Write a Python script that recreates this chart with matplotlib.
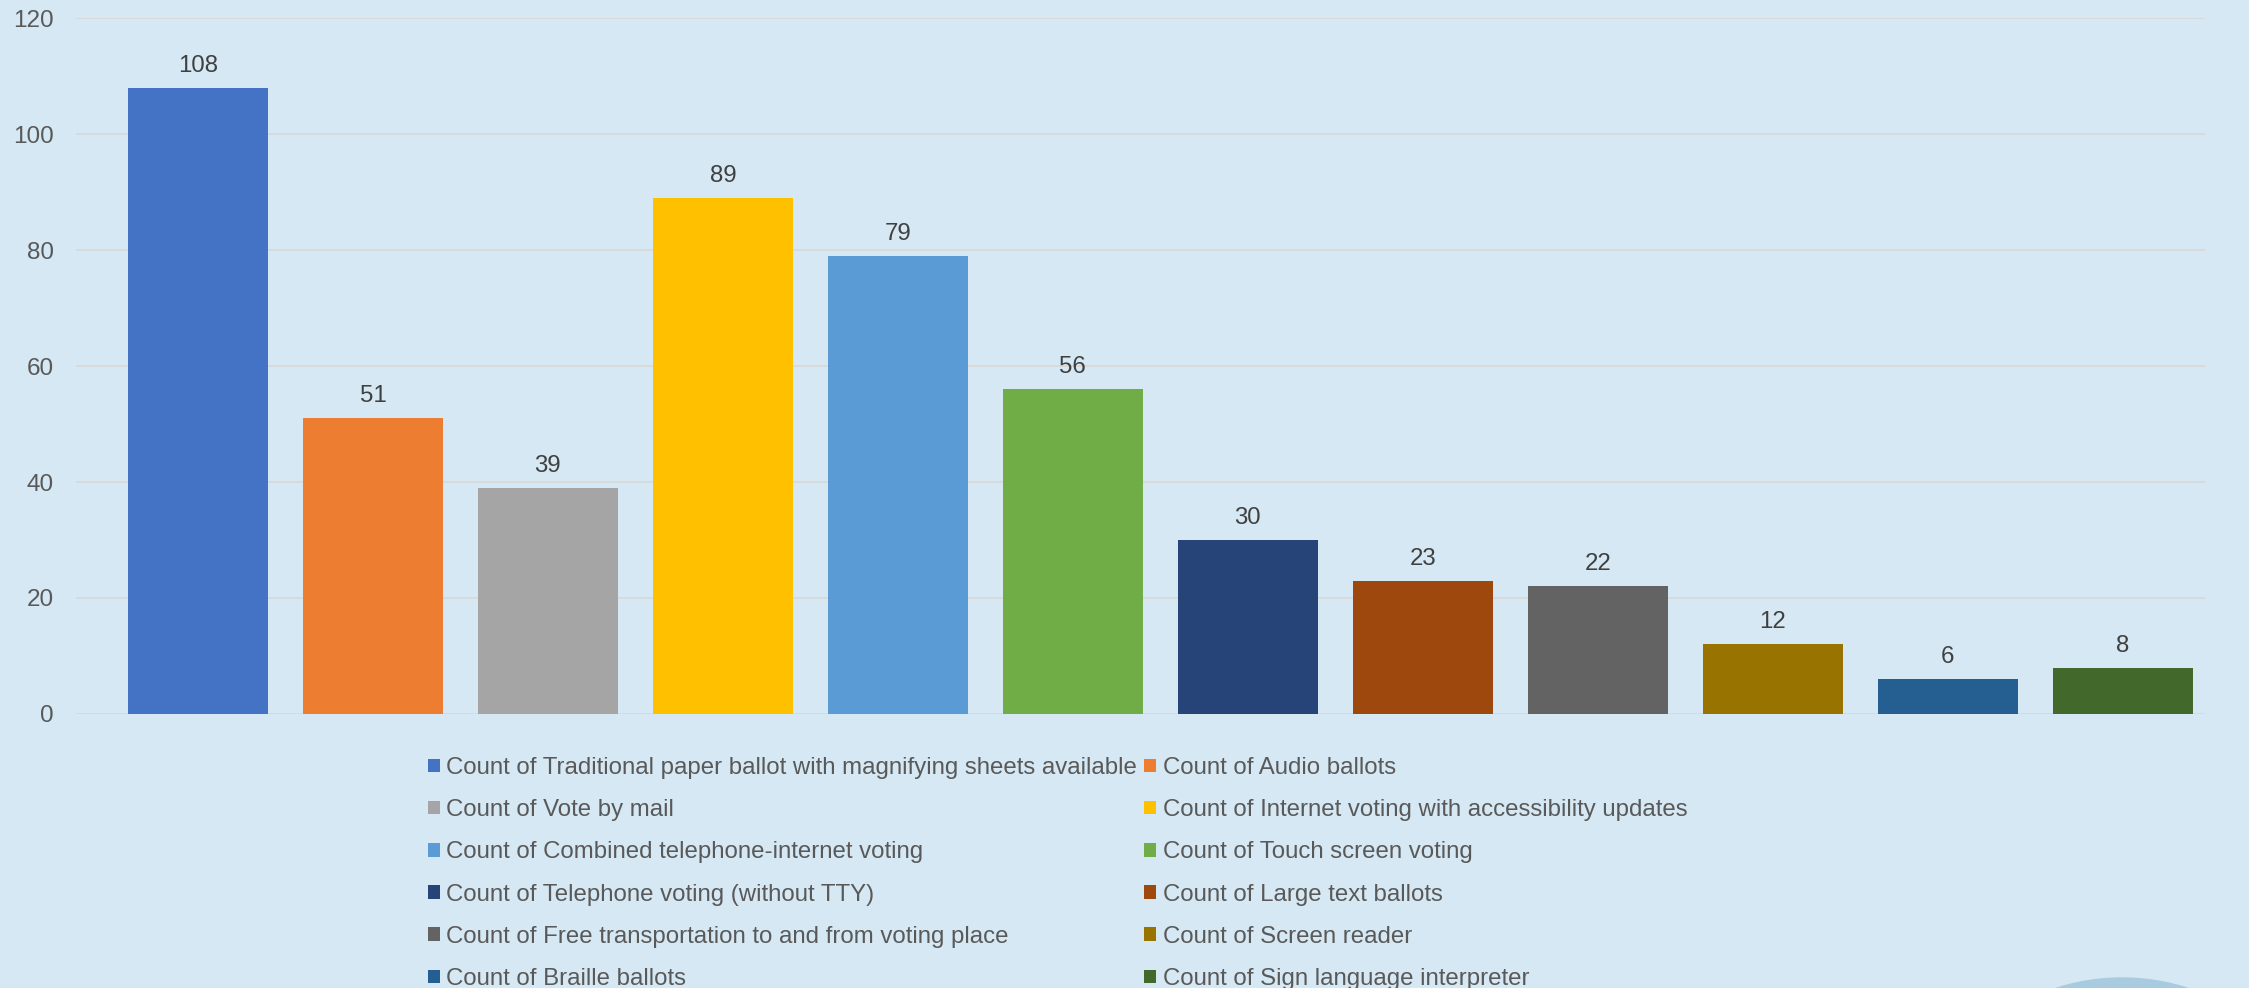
import matplotlib.pyplot as plt
from matplotlib.patches import Patch, Ellipse

plt.rcParams['font.family'] = ['Liberation Sans', 'DejaVu Sans']

categories = [
    "Count of Traditional paper ballot with magnifying sheets available",
    "Count of Audio ballots",
    "Count of Vote by mail",
    "Count of Internet voting with accessibility updates",
    "Count of Combined telephone-internet voting",
    "Count of Touch screen voting",
    "Count of Telephone voting (without TTY)",
    "Count of Large text ballots",
    "Count of Free transportation to and from voting place",
    "Count of Screen reader",
    "Count of Braille ballots",
    "Count of Sign language interpreter",
]
values = [108, 51, 39, 89, 79, 56, 30, 23, 22, 12, 6, 8]
colors = ["#4472C4", "#ED7D31", "#A5A5A5", "#FFC000", "#5B9BD5", "#70AD47",
          "#264478", "#9E480E", "#636363", "#997300", "#255E91", "#43682B"]
yticks = [0, 20, 40, 60, 80, 100, 120]

bg = "#D5E8F3"
W, H = 2249, 988
fig = plt.figure(figsize=(W / 100, H / 100), dpi=100, facecolor=bg)
ax = fig.add_axes([76 / W, 1 - 714 / H, (2205 - 76) / W, (714 - 18) / H])
ax.set_facecolor(bg)

x = list(range(len(values)))
bars = ax.bar(x, values, width=0.8, color=colors, zorder=3)

for xi, v in zip(x, values):
    ax.annotate(str(v), (xi, v), xytext=(0, 11.5), textcoords="offset points",
                ha="center", va="baseline", fontsize=17.3, color="#404040")

ax.set_xlim(-0.697, 11.47)
ax.set_ylim(0, 120)
ax.set_yticks(yticks)
ax.set_xticks([])
ax.tick_params(axis="y", length=0, pad=16, labelsize=17.5, labelcolor="#595959")
ax.grid(axis="y", color="#D9D9D9", linewidth=1.4, zorder=0)
for s in ax.spines.values():
    s.set_visible(False)

# legend filled row-wise like the original (two columns)
handles = [Patch(facecolor=c, edgecolor="none") for c in colors]
order = list(range(0, 12, 2)) + list(range(1, 12, 2))
fig.legend([handles[i] for i in order], [categories[i] for i in order],
           ncol=2, loc="upper left", bbox_to_anchor=(428 / W, 1 - 757 / H),
           frameon=False, fontsize=17.3, labelcolor="#595959",
           handlelength=0.48, handleheight=0.48, handletextpad=0.28,
           columnspacing=0.3, labelspacing=0.84, borderpad=0, borderaxespad=0)

# decorative shape peeking in at the bottom right
fig.add_artist(Ellipse((2122 / W, 1 - 1194 / H), 432 / W, 432 / H,
                       transform=fig.transFigure, color="#A9CBE0", zorder=0))

fig.savefig("out.png", dpi=100, facecolor=bg)
